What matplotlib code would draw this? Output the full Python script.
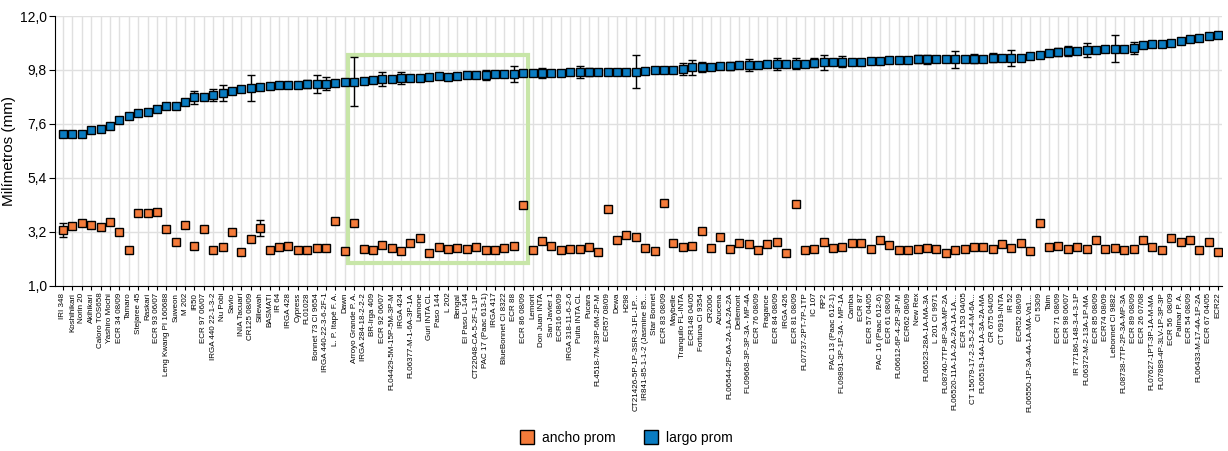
import numpy as np
import matplotlib.pyplot as plt
from matplotlib.patches import Rectangle
from matplotlib.lines import Line2D
from matplotlib.ticker import FuncFormatter

plt.rcParams['font.family'] = ['Liberation Sans', 'DejaVu Sans']

variedades = [
    'IRI 348', 'Koshihikari', 'Norin 20', 'Akihikari', 'Caloro TOS658', 'Yashiro Mochi',
    'ECR 34 08/09', 'Tamaro', 'Stejaree 45', 'Raskari', 'ECR 93 06/07',
    'Leng Kwang PI 160688', 'Suweon', 'M 202', 'IR50', 'ECR 97 06/07',
    'IRGA 440 22-1-3-2', 'Nu Pobi', 'Savio', 'INIA Tacuarí', 'CR125 08/09', 'Sillewah',
    'BASMATI', 'IR 64', 'IRGA 428', 'Cypress', 'FL01028', 'Bonnet 73 CI 9654',
    'IRGA 440-22-3-6-2F-1', 'L. P. Itapé F. A.', 'Dawn', 'Arroyo Grande P. A.',
    'IRGA 284-18-2-2-2', 'BR-Irga 409', 'ECR 92 06/07', 'FL04429-5M-15P-5M-3P-M',
    'IRGA 424', 'FL06377-M-1-6A-3P-1A', 'Lamone', 'Guri INTA CL', 'Paso 144', 'L 202',
    'Bengal', 'El Paso L-144', 'CT22048-CA-5-2F-1-1P', 'PAC 17 (Paac 613-1)', 'IRGA 417',
    'BlueBonnet CI 8322', 'ECR 88', 'ECR 86 08/09', 'Lemont', 'Don Juan INTA',
    'San Javier 1', 'ECR16 08/09', 'IRGA 318-11-6-2-6', 'Puita INTA CL', 'Pucara',
    'FL4518-7M-33P-6M-2P-M', 'ECR57 08/09', 'Dewa', 'H298', 'CT21426-5P-1P-3SR-3-1FL-1P...',
    'IR841-85-1-1-2 (Jasmine 85...', 'Star Bonnet', 'ECR 83 08/09', 'Maybelle',
    'Tranquilo FL-INTA', 'ECR148 04/05', 'Fortuna CI 9354', 'CR2006', 'Azucena',
    'FL06544-2P-6A-2A-1A-2A-2A', 'Dellemont', 'FL09668-3P-3P-3A - MP-4A', 'ECR 76 08/09',
    'Fragance', 'ECR 84 08/09', 'IRGA 426', 'ECR 81 08/09', 'FL07737-2PT-7P-1TP',
    'IC 107', 'RP2', 'PAC 13 (Paac 612-1)', 'FL09891-3P-1P-3A - MP-1A', 'Camba',
    'ECR 87', 'ECR 57 04/05', 'PAC 16 (Paac 612-6)', 'ECR 61 08/09',
    'FL06612-6P-4-2P-3P-M', 'ECR62 08/09', 'New Rex', 'FL06523-28A-1A-MA-3A',
    'L 201 CI 9971', 'FL08740-7TP-8P-3A-MP-2A', 'FL06520-11A-1A-2A-2A-1A-1A...',
    'ECR 153 04/05', 'CT 15679-17-2-3-5-2-4-M-6A...', 'FL06519-14A-1A-3A-2A-MA',
    'CR 675 04/05', 'CT 6919-INTA', 'IR 52', 'ECR52 08/09', 'FL06550-1P-3A-4A-1A-MA-Va1...',
    'CI 5309', 'Taim', 'ECR 71 08/09', 'ECR 98 06/07', 'IR 77186-148-3-4-3-1P',
    'FL06372-M-2-13A-1P-MA', 'ECR 85 08/09', 'ECR74 08/09', 'Lebonnet CI 9882',
    'FL08738-7TP-2P-3A-MP-3A', 'ECR 89 08/09', 'ECR 26 07/08', 'FL07627-1PT-3P-1A-M-MA',
    'FL07889-4P-3LV-1P-3P-3P', 'ECR 56  08/09', 'Palmar P. A.', 'ECR 54 08/09',
    'FL06433-M-17-4A-1P-2A', 'ECR 67 04/05', 'ECR22',
]

largo_prom = [
    7.17, 7.17, 7.19, 7.34, 7.40, 7.53, 7.76, 7.94, 8.05, 8.10,
    8.22, 8.31, 8.33, 8.48, 8.69, 8.70, 8.78, 8.86, 8.93, 9.04,
    9.08, 9.09, 9.16, 9.19, 9.19, 9.20, 9.23, 9.23, 9.24, 9.28,
    9.31, 9.32, 9.35, 9.38, 9.43, 9.43, 9.46, 9.49, 9.46, 9.51,
    9.54, 9.53, 9.54, 9.60, 9.60, 9.60, 9.64, 9.63, 9.63, 9.66,
    9.68, 9.68, 9.68, 9.68, 9.72, 9.72, 9.72, 9.73, 9.73, 9.73,
    9.73, 9.73, 9.76, 9.79, 9.81, 9.81, 9.83, 9.91, 9.91, 9.90,
    9.95, 9.96, 9.99, 9.99, 10.00, 10.03, 10.03, 10.03, 10.06, 10.06,
    10.09, 10.11, 10.11, 10.14, 10.13, 10.13, 10.17, 10.17, 10.21, 10.21,
    10.19, 10.23, 10.23, 10.23, 10.23, 10.23, 10.26, 10.26, 10.26, 10.30,
    10.29, 10.29, 10.29, 10.36, 10.40, 10.49, 10.53, 10.56, 10.56, 10.61,
    10.63, 10.66, 10.67, 10.67, 10.70, 10.82, 10.85, 10.87, 10.89, 11.00,
    11.05, 11.12, 11.20, 11.21,
]

ancho_prom = [
    3.27, 3.43, 3.55, 3.47, 3.40, 3.59, 3.21, 2.47, 3.96, 3.96,
    3.99, 3.32, 2.79, 3.47, 2.62, 3.32, 2.47, 2.59, 3.20, 2.39,
    2.90, 3.34, 2.47, 2.58, 2.60, 2.44, 2.47, 2.55, 2.52, 3.64,
    2.41, 3.55, 2.48, 2.44, 2.67, 2.53, 2.41, 2.74, 2.94, 2.32,
    2.56, 2.51, 2.53, 2.51, 2.58, 2.47, 2.47, 2.53, 2.62, 4.30,
    2.44, 2.82, 2.62, 2.47, 2.51, 2.49, 2.56, 2.36, 4.14, 2.87,
    3.05, 2.97, 2.53, 2.41, 4.38, 2.75, 2.56, 2.62, 3.24, 2.53,
    2.97, 2.51, 2.75, 2.70, 2.47, 2.70, 2.77, 2.34, 4.34, 2.44,
    2.49, 2.77, 2.53, 2.58, 2.74, 2.75, 2.49, 2.85, 2.67, 2.44,
    2.47, 2.49, 2.55, 2.48, 2.34, 2.45, 2.48, 2.58, 2.58, 2.51,
    2.70, 2.53, 2.74, 2.41, 3.55, 2.58, 2.63, 2.48, 2.58, 2.48,
    2.87, 2.51, 2.53, 2.47, 2.48, 2.87, 2.58, 2.44, 2.94, 2.79,
    2.85, 2.47, 2.79, 2.36,
]

# desvio (solo los que se ven fuera del marcador)
largo_err = np.zeros(len(largo_prom))
largo_err[[14, 16, 17, 20, 26, 27, 28, 31, 34, 35, 36, 41, 45, 48, 51, 55, 56, 61,
           62, 66, 67, 68, 71, 73, 76, 78, 80, 81, 83, 85, 91, 92,
           95, 97, 99, 101, 106, 107, 109, 112, 114]] = [
    0.27, 0.25, 0.33, 0.53, 0.16, 0.38, 0.27, 0.99, 0.27, 0.11, 0.24, 0.11, 0.19, 0.34,
    0.19, 0.24, 0.16, 0.67,
    0.12, 0.24, 0.30, 0.20, 0.16, 0.24, 0.24, 0.21, 0.19, 0.30, 0.24, 0.11, 0.16, 0.19,
    0.35, 0.19, 0.19, 0.34, 0.18, 0.20, 0.27, 0.54, 0.23]

ancho_err = np.zeros(len(ancho_prom))
ancho_err[[0, 21, 84]] = [0.30, 0.33, 0.13]

naranja = '#f47b3a'
azul = '#0a7cc1'

x = np.arange(len(variedades))

fig, ax = plt.subplots(figsize=(12.28, 4.51), dpi=100)
fig.subplots_adjust(left=0.0448, right=0.995, top=0.9645, bottom=0.3665)

ax.errorbar(x, ancho_prom, yerr=ancho_err, fmt='s', color=naranja, mec='black', mew=1,
            ms=5.6, ecolor='black', elinewidth=1, capsize=3, zorder=3)
ax.errorbar(x, largo_prom, yerr=largo_err, fmt='s', color=azul, mec='black', mew=1,
            ms=5.6, ecolor='black', elinewidth=1, capsize=3, zorder=3)

# recuadro de resaltado
ax.add_patch(Rectangle((30.3, 1.92), 19.2, 8.49, fill=False, edgecolor='#c8e6a8',
                       linewidth=3, zorder=2))

ax.set_xlim(-0.85, 123.4)
ax.set_ylim(1.0, 12.0)
ax.set_yticks([1.0, 3.2, 5.4, 7.6, 9.8, 12.0])
ax.yaxis.set_major_formatter(FuncFormatter(lambda v, p: f'{v:.1f}'.replace('.', ',')))
ax.set_xticks(x)
ax.set_xticklabels(variedades, rotation=90, fontsize=5.8)
ax.tick_params(axis='y', labelsize=10, length=4, pad=2)
ax.tick_params(axis='x', length=3, pad=2)
ax.set_ylabel('Milímetros (mm)', fontsize=11, labelpad=3)

ax.grid(True, color='#e0e0e0', linewidth=1, zorder=0)
ax.set_axisbelow(True)
for s in ['top', 'right']:
    ax.spines[s].set_visible(False)

handles = [
    Line2D([], [], marker='s', ls='none', color=naranja, mec='black', mew=1, ms=10),
    Line2D([], [], marker='s', ls='none', color=azul, mec='black', mew=1, ms=10),
]
fig.legend(handles, ['ancho prom', 'largo prom'], loc='lower center',
           bbox_to_anchor=(0.51, -0.015), ncol=2, frameon=False, fontsize=10,
           handlelength=1, handletextpad=0.6, columnspacing=2)

fig.savefig('out.png', dpi=100)
